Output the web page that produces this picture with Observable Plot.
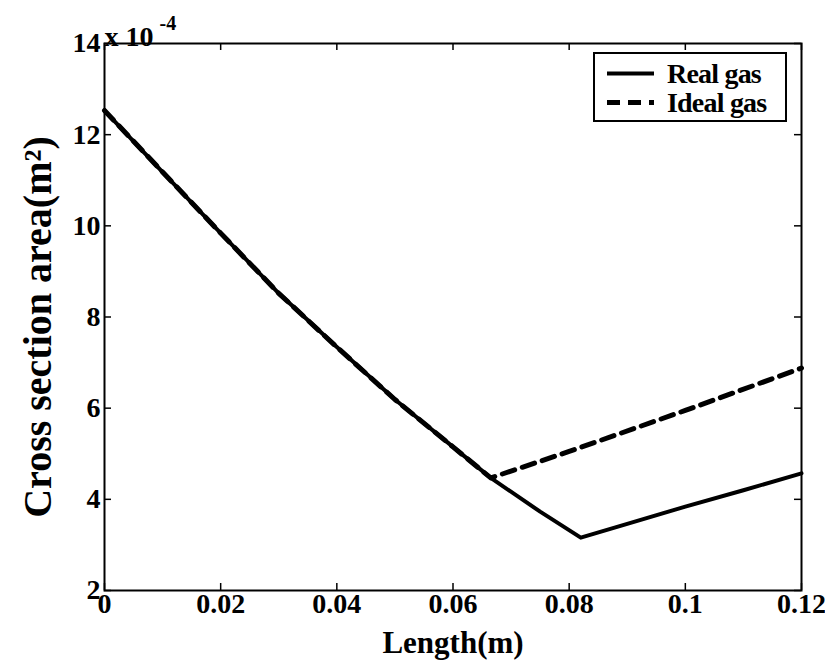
<!DOCTYPE html>
<html><head><meta charset="utf-8">
<script src="https://cdn.jsdelivr.net/npm/d3@7"></script>
<script src="https://cdn.jsdelivr.net/npm/@observablehq/plot@0.6"></script>
<style>
html,body{margin:0;padding:0;background:#fff;}
#wrap{position:relative;width:825px;height:660px;font-family:"Liberation Serif","Times New Roman",serif;font-weight:bold;color:#000;}
#wrap svg text{font-family:"Liberation Serif","Times New Roman",serif !important;font-weight:bold !important;}
#legend{position:absolute;left:593px;top:52px;width:190px;height:66px;border:2px solid #000;background:#fff;}
.row{position:absolute;left:0;height:29px;display:flex;align-items:center;}
.row span{font-size:28px;line-height:29px;letter-spacing:-0.8px;}
</style></head><body><div id="wrap"></div>
<script>
const lengths = [0, 0.01, 0.02, 0.03, 0.04, 0.05, 0.06, 0.0665, 0.075, 0.082, 0.09, 0.1, 0.11, 0.12];
const realGas = [12.53, 11.18, 9.84, 8.52, 7.34, 6.19, 5.15, 4.47, 3.73, 3.16, 3.46, 3.84, 4.2, 4.57];
const idealLengths = [0, 0.01, 0.02, 0.03, 0.04, 0.05, 0.06, 0.0665, 0.08, 0.1, 0.12];
const idealGas = [12.53, 11.18, 9.84, 8.52, 7.34, 6.19, 5.15, 4.47, 5.05, 5.95, 6.88];
const xTicks = [0, 0.02, 0.04, 0.06, 0.08, 0.1, 0.12];
const xTickLabels = ["0", "0.02", "0.04", "0.06", "0.08", "0.1", "0.12"];
const yTicks = [2, 4, 6, 8, 10, 12, 14];
const yTickLabels = ["2", "4", "6", "8", "10", "12", "14"];
const seriesNames = ["Real gas", "Ideal gas"];
const xLabel = "Length(m)";
const yLabel = "Cross section area(m²)";

const real = lengths.map((x, i) => ({x, y: realGas[i]}));
const ideal = idealLengths.map((x, i) => ({x, y: idealGas[i]}));

const W = 825, H = 660, mt = 43, mb = 70, ml = 104, mr = 24;
const ph = H - mt - mb, pw = W - ml - mr;

const chart = Plot.plot({
  width: W, height: H,
  marginTop: mt, marginBottom: mb, marginLeft: ml, marginRight: mr,
  style: {fontFamily: '"Liberation Serif","Times New Roman",serif', fontWeight: "bold", background: "#fff", color: "#000"},
  x: {domain: [0, 0.12]},
  y: {domain: [2, 14]},
  marks: [
    Plot.axisX({ticks: xTicks, tickFormat: d => xTickLabels[xTicks.indexOf(d)], tickSize: 0, tickPadding: 3, fontSize: 28, label: null}),
    Plot.axisY({ticks: yTicks, tickFormat: d => yTickLabels[yTicks.indexOf(d)], tickSize: 0, tickPadding: 4, fontSize: 28, label: null}),
    Plot.tickX(xTicks, {x: d => d, insetTop: ph - 7, strokeWidth: 1.5}),
    Plot.tickX(xTicks, {x: d => d, insetBottom: ph - 7, strokeWidth: 1.5}),
    Plot.tickY(yTicks, {y: d => d, insetRight: pw - 7, strokeWidth: 1.5}),
    Plot.tickY(yTicks, {y: d => d, insetLeft: pw - 7, strokeWidth: 1.5}),
    Plot.line(real, {x: "x", y: "y", stroke: "#000", strokeWidth: 4}),
    Plot.line(ideal, {x: "x", y: "y", stroke: "#000", strokeWidth: 5, strokeDasharray: "13,8"}),
    Plot.frame({stroke: "#000", strokeWidth: 2}),
    Plot.text([xLabel], {text: d => d, frameAnchor: "bottom", lineAnchor: "bottom", dy: 62, fontSize: 31, letterSpacing: -1}),
    Plot.text([yLabel], {text: d => d, frameAnchor: "left", textAnchor: "middle", rotate: -90, dx: -66, dy: 10, fontSize: 40}),
    Plot.text(["x 10"], {text: d => d, frameAnchor: "top-left", textAnchor: "start", dx: 0, dy: -17, fontSize: 28}),
    Plot.text(["-4"], {text: d => d, frameAnchor: "top-left", textAnchor: "start", dx: 55, dy: -28, fontSize: 20})
  ]
});

const wrap = document.getElementById("wrap");
wrap.appendChild(chart);

const legend = document.createElement("div");
legend.id = "legend";
const dashes = [null, "13,8"];
const widths = [4, 5];
seriesNames.forEach((name, i) => {
  const row = document.createElement("div");
  row.className = "row";
  row.style.top = (5 + i * 29) + "px";
  row.innerHTML = `<svg width="60" height="29" style="margin-left:12px"><line x1="0" x2="47" y1="14.5" y2="14.5" stroke="#000" stroke-width="${widths[i]}" ${dashes[i] ? `stroke-dasharray="${dashes[i]}"` : ""}/></svg><span>${name}</span>`;
  legend.appendChild(row);
});
wrap.appendChild(legend);
</script></body></html>
